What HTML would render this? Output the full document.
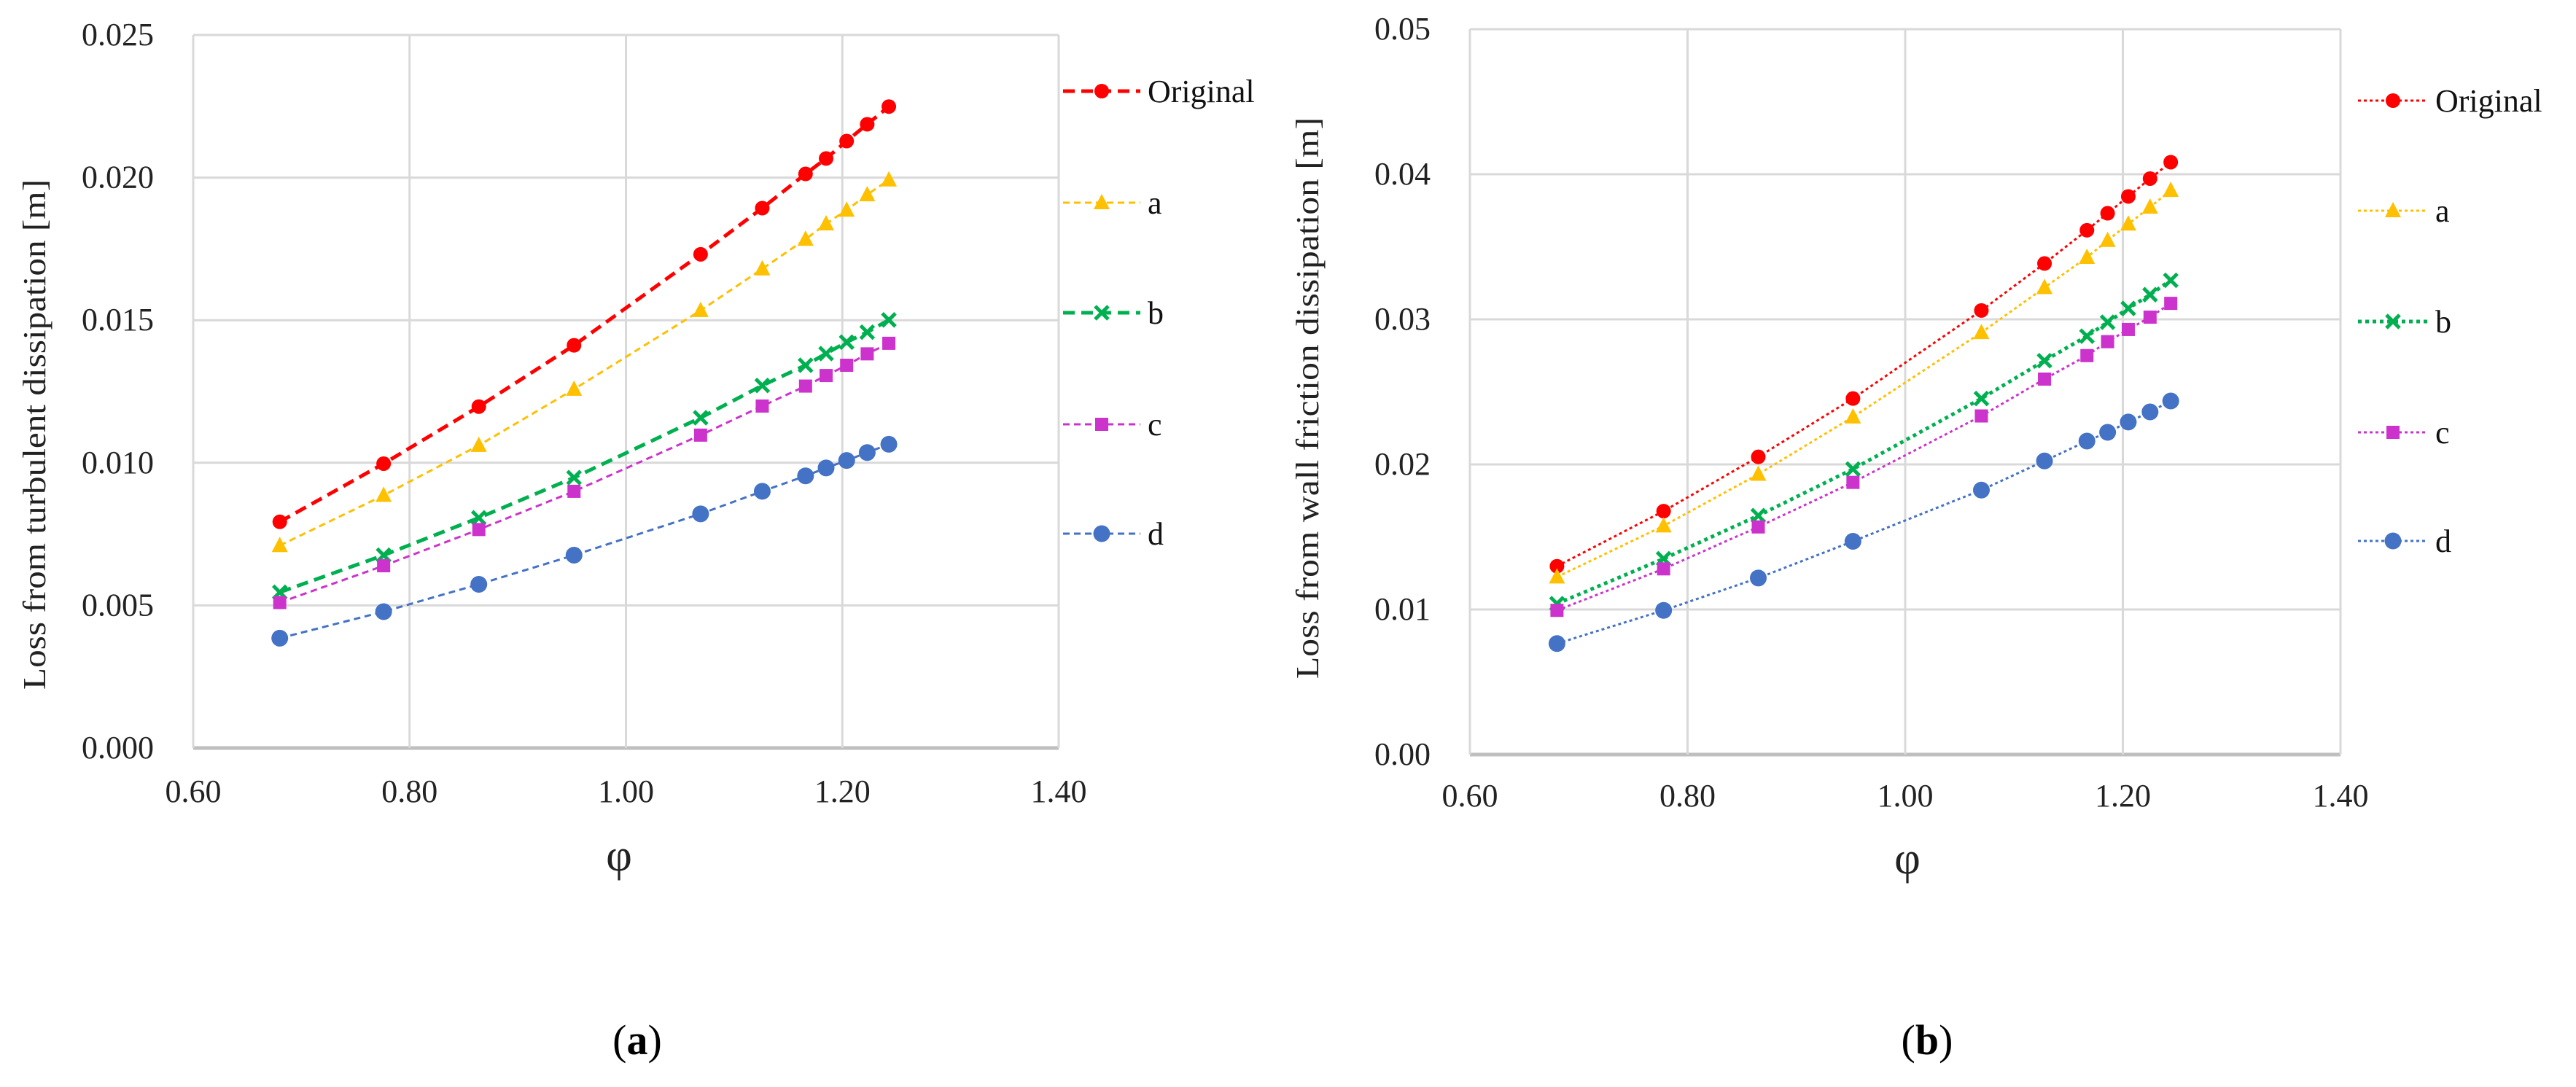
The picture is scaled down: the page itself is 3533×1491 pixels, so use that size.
<!DOCTYPE html>
<html><head><meta charset="utf-8"><style>
html,body{margin:0;padding:0;background:#fff;}
svg{display:block;font-family:"Liberation Serif","Times New Roman",serif;}
</style></head><body>
<svg id="fig" width="3533" height="1491" viewBox="0 0 3533 1491" xmlns="http://www.w3.org/2000/svg"></svg>
<script>
const seriesNames = ["Original","a","b","c","d"];
const phiA = [0.680,0.776,0.864,0.952,1.069,1.126,1.166,1.185,1.204,1.223,1.243];
const turbOriginal = [0.00793,0.00997,0.01197,0.01412,0.01731,0.01893,0.02013,0.02067,0.02128,0.02187,0.02249];
const turbA = [0.00710,0.00886,0.01061,0.01258,0.01534,0.01680,0.01784,0.01838,0.01886,0.01940,0.01992];
const turbB = [0.00546,0.00676,0.00807,0.00948,0.01158,0.01271,0.01342,0.01383,0.01423,0.01458,0.01501];
const turbC = [0.00510,0.00639,0.00766,0.00900,0.01097,0.01199,0.01269,0.01306,0.01342,0.01382,0.01419];
const turbD = [0.00385,0.00478,0.00574,0.00676,0.00821,0.00900,0.00954,0.00982,0.01008,0.01036,0.01065];
const phiB = [0.680,0.778,0.865,0.952,1.070,1.128,1.167,1.186,1.205,1.225,1.244];
const wallOriginal = [0.01298,0.01678,0.02052,0.02454,0.03061,0.03385,0.03614,0.03731,0.03847,0.03970,0.04083];
const wallA = [0.01224,0.01576,0.01932,0.02327,0.02909,0.03219,0.03427,0.03544,0.03657,0.03773,0.03889];
const wallB = [0.01040,0.01350,0.01647,0.01968,0.02454,0.02715,0.02884,0.02980,0.03075,0.03170,0.03269];
const wallC = [0.00994,0.01280,0.01569,0.01876,0.02334,0.02588,0.02750,0.02846,0.02930,0.03015,0.03110];
const wallD = [0.00765,0.00994,0.01217,0.01470,0.01823,0.02024,0.02161,0.02221,0.02292,0.02362,0.02437];
const xTicks = [0.6,0.8,1.0,1.2,1.4];
const xTickLabels = ["0.60","0.80","1.00","1.20","1.40"];
const yTicksA = [0,0.005,0.010,0.015,0.020,0.025];
const yTickLabelsA = ["0.000","0.005","0.010","0.015","0.020","0.025"];
const yTicksB = [0,0.01,0.02,0.03,0.04,0.05];
const yTickLabelsB = ["0.00","0.01","0.02","0.03","0.04","0.05"];

const NS="http://www.w3.org/2000/svg";
const svg=document.getElementById('fig');
function mk(tag,attrs,parent){const e=document.createElementNS(NS,tag);for(const k in attrs)e.setAttribute(k,attrs[k]);(parent||svg).appendChild(e);return e;}

const colors=["#ff0000","#ffc000","#00b050","#cc33cc","#4472c4"];
const markers=["circle","triangle","x","square","circle"];

function marker(g,type,x,y,c,big){
  let e;
  if(type==="circle"){e=mk('circle',{cx:x,cy:y,r:big?11.5:10,fill:c},g);}
  else if(type==="triangle"){e=mk('polygon',{points:`${x},${y-12} ${x-11},${y+9} ${x+11},${y+9}`,fill:c},g);}
  else if(type==="square"){e=mk('rect',{x:x-9,y:y-9,width:18,height:18,fill:c},g);}
  else {e=mk('path',{d:`M${x-9},${y-9}L${x+9},${y+9}M${x+9},${y-9}L${x-9},${y+9}`,stroke:c,'stroke-width':5,fill:'none'},g);}
  return e;
}

function chart(cfg){
  const g=mk('g',{});
  
  
  const X=v=>cfg.x0+(v-0.6)/0.8*(cfg.x1-cfg.x0);
  const Y=v=>cfg.yb-(v/cfg.ymax)*(cfg.yb-cfg.yt);
  cfg.yTicks.forEach((t,i)=>{
    const l=mk('line',{x1:cfg.x0,x2:cfg.x1,y1:Y(t),y2:Y(t),stroke:i===0?'#bfbfbf':'#d9d9d9','stroke-width':i===0?5:3},g);
    
    
    const tx=mk('text',{x:cfg.ylx,y:Y(t)+14,'text-anchor':'end','font-size':44,fill:'#222'},g);
    tx.textContent=cfg.yLabels[i];
    
    
  });
  xTicks.forEach((t,i)=>{
    if(i>0){const l=mk('line',{x1:X(t),x2:X(t),y1:cfg.yt,y2:cfg.yb,stroke:'#d9d9d9','stroke-width':3},g);
    
    }
    const tx=mk('text',{x:X(t),y:cfg.xly,'text-anchor':'middle','font-size':44,fill:'#222'},g);
    tx.textContent=xTickLabels[i];
    
    
  });
  const lv=mk('line',{x1:cfg.x0,x2:cfg.x0,y1:cfg.yt,y2:cfg.yb,stroke:'#d9d9d9','stroke-width':3},g);
  
  
  cfg.series.forEach((vals,si)=>{
    const sg=mk('g',{},g);
    
    
    const thick=cfg.thick[si];
    const pts=vals.map((v,i)=>X(cfg.phi[i])+','+Y(v)).join(' ');
    const pl=mk('polyline',{points:pts,fill:'none',stroke:colors[si],'stroke-width':thick?5:3,'stroke-dasharray':cfg.dash(thick)},sg);
    
    
    vals.forEach((v,i)=>{
      const m=marker(sg,markers[si],X(cfg.phi[i]),Y(v),colors[si],si===4);
      
      
    });
    const ly=cfg.legY[si];
    const lg=mk('g',{},g);
    
    
    mk('line',{x1:cfg.legX0,x2:cfg.legX1,y1:ly,y2:ly,stroke:colors[si],'stroke-width':thick?5:3,'stroke-dasharray':cfg.dash(thick)},lg);
    marker(lg,markers[si],(cfg.legX0+cfg.legX1)/2,ly,colors[si],si===4);
    const lt=mk('text',{x:cfg.legX1+10,y:ly+15,'font-size':44,fill:'#111'},lg);
    lt.textContent=seriesNames[si];
  });
  const yt=mk('text',{x:0,y:0,'font-size':44,fill:'#222','text-anchor':'middle',transform:`translate(${cfg.ytx},${cfg.yty}) rotate(-90)`,textLength:cfg.ytLen,lengthAdjust:'spacingAndGlyphs'},g);
  yt.textContent=cfg.ytitle;
  
  
  const xt=mk('text',{x:cfg.phiX,y:cfg.phiY+20,'font-size':62,'text-anchor':'middle',fill:'#222'},g);
  xt.textContent='φ';
  
  
  const cap=mk('text',{x:cfg.capX,y:1446,'font-size':58,'text-anchor':'middle',fill:'#000'},g);
  cap.innerHTML='(<tspan font-weight="bold">'+cfg.capL+'</tspan>)';
  
  
}

chart({name:'chart-turbulent-dissipation',x0:265,x1:1452,yt:48,yb:1026,ymax:0.025,yTicks:yTicksA,yLabels:yTickLabelsA,
  ylx:211,xly:1100,phi:phiA,series:[turbOriginal,turbA,turbB,turbC,turbD],thick:[true,false,true,false,false],
  dash:t=>t?'16,9':'9,6',legX0:1458,legX1:1564,legY:[125,278,429,582,732],
  ytitle:'Loss from turbulent dissipation  [m]',ytx:62,yty:596,ytLen:700,phiX:849,phiY:1174,capX:874,capL:'a'});
chart({name:'chart-wall-friction-dissipation',x0:2016,x1:3210,yt:40,yb:1035,ymax:0.05,yTicks:yTicksB,yLabels:yTickLabelsB,
  ylx:1962,xly:1106,phi:phiB,series:[wallOriginal,wallA,wallB,wallC,wallD],thick:[false,false,true,false,false],
  dash:t=>t?'5,5':'4,4',legX0:3234,legX1:3330,legY:[138,289,441,593,742],
  ytitle:'Loss from wall friction dissipation  [m]',ytx:1808,yty:546,ytLen:770,phiX:2616,phiY:1178,capX:2643,capL:'b'});
</script>
</body></html>
